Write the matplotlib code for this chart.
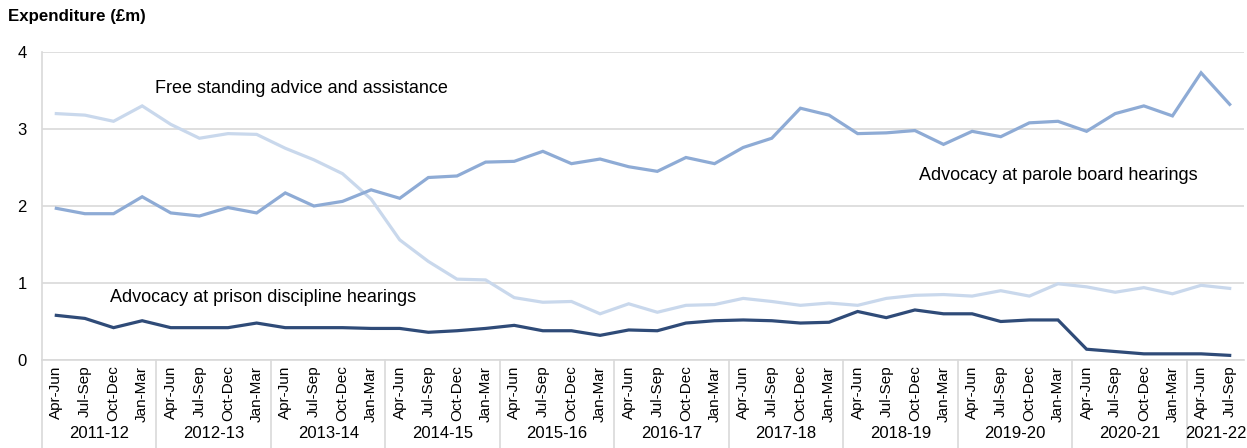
import numpy as np
import matplotlib
matplotlib.use('Agg')
import matplotlib.pyplot as plt
import matplotlib.transforms as mtransforms

plt.rcParams['font.family'] = ['Liberation Sans', 'DejaVu Sans']

quarters = ['Apr-Jun', 'Jul-Sep', 'Oct-Dec', 'Jan-Mar']
years = ['2011-12', '2012-13', '2013-14', '2014-15', '2015-16', '2016-17',
         '2017-18', '2018-19', '2019-20', '2020-21', '2021-22']
quarters_per_year = [4] * 10 + [2]

parole = [1.97, 1.90, 1.90, 2.12, 1.91, 1.87, 1.98, 1.91, 2.17, 2.00, 2.06, 2.21,
          2.10, 2.37, 2.39, 2.57, 2.58, 2.71, 2.55, 2.61, 2.51, 2.45, 2.63, 2.55,
          2.76, 2.88, 3.27, 3.18, 2.94, 2.95, 2.98, 2.80, 2.97, 2.90, 3.08, 3.10,
          2.97, 3.20, 3.30, 3.17, 3.73, 3.32]
free_standing = [3.20, 3.18, 3.10, 3.30, 3.06, 2.88, 2.94, 2.93, 2.75, 2.60, 2.42, 2.09,
                 1.56, 1.28, 1.05, 1.04, 0.81, 0.75, 0.76, 0.60, 0.73, 0.62, 0.71, 0.72,
                 0.80, 0.76, 0.71, 0.74, 0.71, 0.80, 0.84, 0.85, 0.83, 0.90, 0.83, 0.99,
                 0.95, 0.88, 0.94, 0.86, 0.97, 0.93]
prison = [0.58, 0.54, 0.42, 0.51, 0.42, 0.42, 0.42, 0.48, 0.42, 0.42, 0.42, 0.41,
          0.41, 0.36, 0.38, 0.41, 0.45, 0.38, 0.38, 0.32, 0.39, 0.38, 0.48, 0.51,
          0.52, 0.51, 0.48, 0.49, 0.63, 0.55, 0.65, 0.60, 0.60, 0.50, 0.52, 0.52,
          0.14, 0.11, 0.08, 0.08, 0.08, 0.06]

labels = []
for n in quarters_per_year:
    labels += quarters[:n]
x = np.arange(len(labels))

fig = plt.figure(figsize=(12.47, 4.48), dpi=100)
ax = fig.add_axes([42 / 1247, 88 / 448, 1202 / 1247, 308 / 448])

ax.plot(x, free_standing, color='#C9D8EC', lw=2.3, solid_joinstyle='miter')
ax.plot(x, parole, color='#8EABD5', lw=2.3, solid_joinstyle='miter')
ax.plot(x, prison, color='#2F4B78', lw=2.3, solid_joinstyle='miter')

ax.set_xlim(-0.5, len(x) - 0.5)
ax.set_ylim(0, 4)
ax.set_yticks([0, 1, 2, 3, 4])
ax.yaxis.grid(True, color='#D9D9D9', lw=1.2)
ax.set_axisbelow(True)
ax.set_xticks(x)
ax.set_xticklabels(labels, rotation=90, fontsize=11)
ax.tick_params(axis='x', length=0, pad=4)
ax.tick_params(axis='y', length=0, pad=11, labelsize=12)
for s in ['top', 'right']:
    ax.spines[s].set_visible(False)
ax.spines['left'].set_color('#D9D9D9')
ax.spines['bottom'].set_color('#D9D9D9')
ax.spines['left'].set_linewidth(1.2)
ax.spines['bottom'].set_linewidth(1.2)

# year groups under the quarter labels
trans = mtransforms.blended_transform_factory(ax.transData, ax.transAxes)
start = 0
for yr, n in zip(years, quarters_per_year):
    ax.plot([start - 0.5, start - 0.5], [0, -0.3], color='#D9D9D9', lw=1.2,
            transform=trans, clip_on=False)
    ax.text(start + (n - 1) / 2, -0.24, yr, transform=trans, ha='center', va='center',
            fontsize=12)
    start += n

ax.text(3.46, 3.53, 'Free standing advice and assistance', fontsize=13, va='center')
ax.text(1.89, 0.81, 'Advocacy at prison discipline hearings', fontsize=13, va='center')
ax.text(30.14, 2.40, 'Advocacy at parole board hearings', fontsize=13, va='center')

fig.text(8 / 1247, 1 - 17 / 448, 'Expenditure (£m)', fontsize=12.2, fontweight='bold',
         va='center')

fig.savefig('out.png', dpi=100)
